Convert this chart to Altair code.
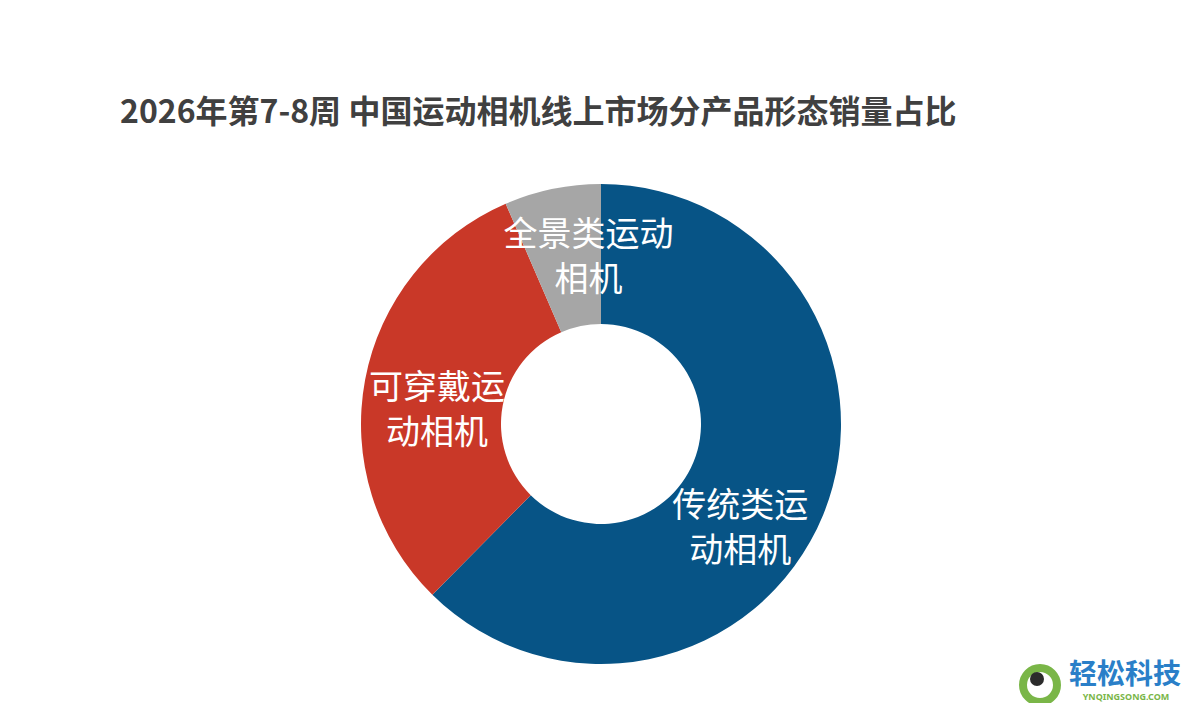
import math
import altair as alt
import pandas as pd

# ---- data ----
categories = ["传统类运动相机", "可穿戴运动相机", "全景类运动相机"]
label_lines = ["传统类运\n动相机", "可穿戴运\n动相机", "全景类运动\n相机"]
shares = [62.4, 31.1, 6.5]
colors = ["#075486", "#C93828", "#A6A6A6"]
title_text = "2026年第7-8周 中国运动相机线上市场分产品形态销量占比"
brand_cn = "轻松科技"
brand_en = "YNQINGSONG.COM"

df = pd.DataFrame({
    "category": categories,
    "label": label_lines,
    "share": shares,
    "order": list(range(len(categories))),
})

CX, CY = 593, 416  # donut centre inside the view
theta_scale = alt.Scale(domain=[0, sum(shares)], range=[0, 2 * math.pi])
color = alt.Color("category:N", scale=alt.Scale(domain=categories, range=colors), legend=None)

base = alt.Chart(df).transform_stack(
    stack="share", as_=["s0", "s1"], groupby=[], sort=[alt.SortField("order")]
).transform_calculate(mid="(datum.s0 + datum.s1) / 2")

arcs = base.mark_arc(innerRadius=100, outerRadius=240).encode(
    theta=alt.Theta("s0:Q", scale=theta_scale, stack=None),
    theta2="s1:Q",
    color=color,
    x=alt.value(CX),
    y=alt.value(CY),
)

# label nudges (layout only), per slice
nudges = {categories[0]: (-18, 18), categories[1]: (3, -4), categories[2]: (22, -22)}
label_layers = []
for cat in categories:
    ddx, ddy = nudges[cat]
    label_layers.append(
        base.transform_filter(alt.datum.category == cat).mark_text(
            radius=170, color="white", fontSize=34, lineHeight=45,
            font="Noto Sans CJK SC", lineBreak="\n", align="center", baseline="middle",
            dx=ddx, dy=ddy,
        ).encode(
            theta=alt.Theta("mid:Q", scale=theta_scale, stack=None),
            text="label:N",
            x=alt.value(CX),
            y=alt.value(CY),
        )
    )

title = alt.Chart(pd.DataFrame({"t": [title_text]})).mark_text(
    align="left", baseline="middle", fontSize=32, fontWeight="bold",
    font="Noto Sans CJK SC", color="#404040",
).encode(text="t:N", x=alt.value(112), y=alt.value(105))

logo_ring = alt.Chart(pd.DataFrame({"k": [1]})).mark_point(
    shape="circle", size=1156, filled=False, stroke="#7AB648", strokeWidth=8, opacity=1,
).encode(x=alt.value(1032), y=alt.value(677))
logo_eye = alt.Chart(pd.DataFrame({"k": [1]})).mark_point(
    shape="circle", size=196, filled=True, color="#2b2b2b", opacity=1,
).encode(x=alt.value(1029), y=alt.value(671))

brand1 = alt.Chart(pd.DataFrame({"t": [brand_cn]})).mark_text(
    align="left", baseline="middle", fontSize=28, fontWeight="bold",
    font="Noto Sans CJK SC", color="#2A7FC8",
).encode(text="t:N", x=alt.value(1061), y=alt.value(668))
brand2 = alt.Chart(pd.DataFrame({"t": [brand_en]})).mark_text(
    align="center", baseline="middle", fontSize=9, fontWeight="bold",
    font="Noto Sans", color="#7AB648",
).encode(text="t:N", x=alt.value(1118), y=alt.value(689))

chart = alt.layer(arcs, *label_layers, title, logo_ring, logo_eye, brand1, brand2).properties(
    width=1184, height=695,
    autosize=alt.AutoSizeParams(type="none"),
    padding=0,
).configure_view(strokeWidth=0, stroke="transparent").configure(
    background="white", style={"cell": {"stroke": "transparent", "strokeWidth": 0}}
)

chart.save("out.html", embed_options={"renderer": "svg", "actions": False})
